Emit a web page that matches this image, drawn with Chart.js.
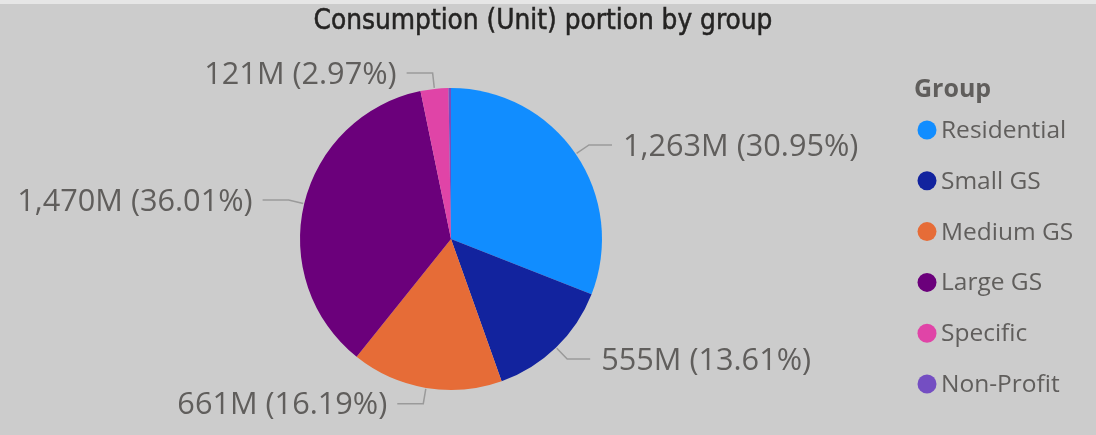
<!DOCTYPE html>
<html><head><meta charset="utf-8">
<script src="https://cdn.jsdelivr.net/npm/chart.js@4.4.0/dist/chart.umd.min.js"></script>
<style>html,body{margin:0;padding:0;background:#cccccc;overflow:hidden}canvas{display:block}</style>
</head><body>
<canvas id="c" width="1096" height="435"></canvas>
<script>
const chartTitle = "Consumption (Unit) portion by group";
const legendTitle = "Group";
const categories = ["Residential", "Small GS", "Medium GS", "Large GS", "Specific", "Non-Profit"];
const values = [1263.2, 555.4, 660.8, 1469.8, 121.2, 11.0]; // millions of units
const colors = ["#118DFF", "#12239E", "#E66C37", "#6B007B", "#E044A7", "#744EC2"];

const total = values.reduce((a, b) => a + b, 0);
function fmtLabel(v) {
  return Math.round(v).toLocaleString('en-US') + 'M (' + (v / total * 100).toFixed(2) + '%)';
}

const bgPlugin = {
  id: 'bg',
  beforeDraw(chart) {
    const ctx = chart.ctx;
    ctx.save();
    ctx.fillStyle = '#cccccc';
    ctx.fillRect(0, 0, chart.width, chart.height);
    ctx.fillStyle = '#e6e6e6';
    ctx.fillRect(0, 0, chart.width, 4);
    ctx.restore();
  }
};

const titlePlugin = {
  id: 'pbTitle',
  afterDraw(chart) {
    const ctx = chart.ctx;
    ctx.save();
    ctx.font = '24px "DejaVu Sans Condensed"';
    const w = ctx.measureText(chartTitle).width;
    const size = 24 * 459 / w;
    ctx.font = size.toFixed(2) + 'px "DejaVu Sans Condensed"';
    ctx.fillStyle = '#252423';
    ctx.strokeStyle = '#252423';
    ctx.lineWidth = 0.5;
    ctx.textAlign = 'center';
    ctx.textBaseline = 'middle';
    ctx.fillText(chartTitle, 543, 22);
    ctx.strokeText(chartTitle, 543, 22);
    ctx.restore();
  }
};

const legendPlugin = {
  id: 'pbLegend',
  afterDraw(chart) {
    const ctx = chart.ctx;
    ctx.save();
    ctx.textBaseline = 'middle';
    ctx.textAlign = 'left';
    ctx.fillStyle = '#605E5C';
    ctx.font = 'bold 25px "Open Sans"';
    ctx.fillText(legendTitle, 914, 90);
    ctx.font = '24.5px "Open Sans"';
    categories.forEach((c, i) => {
      const y = 130 + i * 50.8;
      ctx.beginPath();
      ctx.arc(927, y, 9.5, 0, Math.PI * 2);
      ctx.fillStyle = colors[i];
      ctx.fill();
      ctx.fillStyle = '#605E5C';
      ctx.fillText(c, 941, y + 1);
    });
    ctx.restore();
  }
};

const labelPlugin = {
  id: 'outLabels',
  afterDatasetsDraw(chart) {
    const ctx = chart.ctx;
    const meta = chart.getDatasetMeta(0);
    ctx.save();
    ctx.font = '30.7px "Open Sans"';
    ctx.textBaseline = 'middle';
    meta.data.forEach((arc, i) => {
      const v = values[i];
      if (v / total < 0.01) return;
      const a = (arc.startAngle + arc.endAngle) / 2;
      const r = arc.outerRadius;
      const cx = arc.x, cy = arc.y;
      const x0 = cx + Math.cos(a) * (r + 1), y0 = cy + Math.sin(a) * (r + 1);
      const x1 = cx + Math.cos(a) * (r + 16), y1 = cy + Math.sin(a) * (r + 16);
      const right = Math.cos(a) >= 0;
      const x2 = x1 + (right ? 23 : -26);
      ctx.strokeStyle = '#9a9a9a';
      ctx.lineWidth = 1.5;
      ctx.beginPath();
      ctx.moveTo(x0, y0);
      ctx.lineTo(x1, y1);
      ctx.lineTo(x2, y1);
      ctx.stroke();
      ctx.fillStyle = '#605E5C';
      ctx.textAlign = right ? 'left' : 'right';
      ctx.fillText(fmtLabel(v), x2 + (right ? 11 : -10), y1 + 2);
    });
    ctx.restore();
  }
};

new Chart(document.getElementById('c'), {
  type: 'pie',
  data: {
    labels: categories,
    datasets: [{
      data: values,
      backgroundColor: colors,
      borderWidth: 0
    }]
  },
  options: {
    responsive: false,
    animation: false,
    layout: { padding: { left: 300, right: 494, top: 88, bottom: 45 } },
    plugins: {
      legend: { display: false },
      title: { display: false },
      tooltip: { enabled: false }
    }
  },
  plugins: [bgPlugin, titlePlugin, legendPlugin, labelPlugin]
});
</script>
</body></html>
